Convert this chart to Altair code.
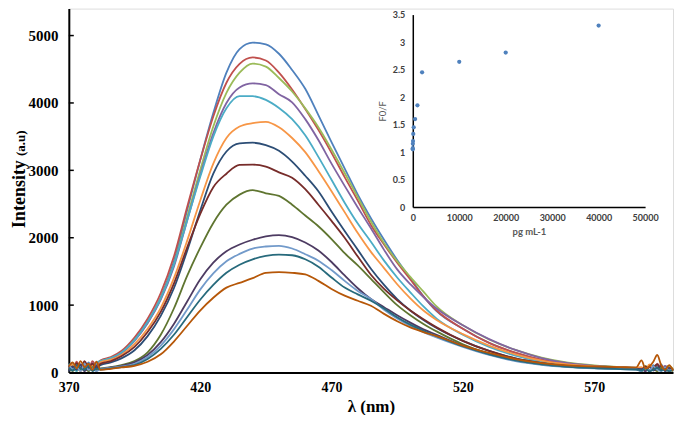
import altair as alt
import pandas as pd

# ---------------- main spectra ----------------
wavelength = [370, 371.5, 373, 374.5, 376, 377.5, 379, 380.5,
              382, 386, 390, 395, 400, 405, 410, 415, 420, 425, 430, 435, 440, 445,
              450, 455, 460, 465, 470, 475, 480, 485, 490, 495, 500, 505, 510,
              520, 530, 540, 550, 560, 570, 580, 586,
              588, 589.5, 591, 592.5, 594, 595.5, 597, 598.5, 600]

s01 = [70, 140, 30, 120, 60, 150, 40, 110,
       170, 215, 300, 500, 760, 1120, 1650, 2400, 3150, 3850, 4450, 4800, 4895, 4870,
       4730, 4490, 4210, 3820, 3420, 3030, 2640, 2290, 1970, 1670, 1400, 1130, 910,
       650, 440, 290, 185, 125, 95, 75, 65,
       40, 90, 30, 110, 50, 120, 20, 80, 40]
s02 = [120, 50, 160, 70, 150, 40, 170, 90,
       180, 230, 320, 520, 800, 1180, 1720, 2450, 3150, 3800, 4300, 4580, 4675, 4630,
       4450, 4200, 3910, 3600, 3260, 2900, 2550, 2190, 1900, 1630, 1380, 1130, 920,
       650, 440, 295, 190, 125, 95, 75, 65,
       70, 30, 100, 40, 130, 60, 90, 30, 60]
s03 = [40, 110, 20, 90, 130, 30, 100, 60,
       165, 210, 290, 480, 740, 1100, 1600, 2300, 3000, 3650, 4150, 4450, 4585, 4540,
       4370, 4170, 3920, 3640, 3310, 2960, 2600, 2240, 1920, 1650, 1420, 1200, 980,
       700, 490, 335, 220, 145, 105, 80, 70,
       50, 100, 40, 80, 110, 30, 70, 100, 50]
s04 = [90, 30, 130, 50, 100, 20, 140, 70,
       160, 205, 285, 470, 730, 1080, 1570, 2250, 2930, 3550, 4000, 4230, 4290, 4265,
       4130, 4010, 3760, 3450, 3100, 2770, 2450, 2140, 1820, 1530, 1310, 1120, 950,
       700, 495, 335, 215, 140, 100, 80, 70,
       60, 20, 90, 50, 120, 40, 100, 60, 30]
s05 = [130, 60, 20, 100, 40, 120, 80, 150,
       170, 215, 295, 480, 750, 1100, 1600, 2250, 2900, 3500, 3920, 4100, 4100, 4045,
       3925, 3760, 3520, 3200, 2860, 2520, 2210, 1940, 1660, 1410, 1190, 980, 800,
       560, 380, 250, 160, 110, 85, 65, 60,
       30, 80, 20, 60, 40, 90, 20, 50, 30]
s06 = [50, 120, 80, 20, 140, 60, 110, 30,
       150, 190, 260, 420, 650, 960, 1400, 1950, 2550, 3100, 3480, 3650, 3700, 3720,
       3640, 3480, 3270, 2990, 2690, 2380, 2070, 1790, 1550, 1310, 1100, 920, 780,
       570, 400, 270, 175, 120, 90, 75, 70,
       80, 40, 120, 60, 30, 100, 50, 20, 60]
s07 = [20, 80, 40, 110, 30, 90, 50, 70,
       110, 150, 210, 330, 540, 840, 1250, 1800, 2400, 2950, 3280, 3400, 3410, 3375,
       3290, 3130, 2920, 2690, 2390, 2100, 1820, 1540, 1300, 1090, 920, 780, 660,
       470, 320, 210, 140, 95, 75, 60, 55,
       30, 70, 20, 50, 80, 30, 60, 20, 40]
s08 = [100, 40, 140, 60, 170, 80, 130, 50,
       130, 170, 240, 380, 600, 900, 1320, 1850, 2350, 2750, 2950, 3080, 3085, 3055,
       2970, 2890, 2720, 2490, 2250, 2000, 1720, 1450, 1240, 1070, 920, 790, 670,
       470, 320, 210, 140, 95, 75, 60, 55,
       40, 90, 30, 70, 120, 40, 80, 30, 60]
s09 = [60, 20, 90, 40, 70, 20, 80, 30,
       60, 80, 110, 170, 300, 560, 950, 1430, 1850, 2220, 2490, 2640, 2705, 2660,
       2620, 2490, 2330, 2170, 1980, 1770, 1590, 1390, 1190, 1000, 850, 720, 610,
       420, 280, 180, 120, 85, 65, 55, 50,
       20, 60, 30, 50, 20, 70, 30, 40, 20]
s10 = [30, 90, 50, 120, 20, 70, 40, 100,
       55, 75, 100, 150, 260, 450, 720, 1050, 1380, 1630, 1800, 1900, 1970, 2020,
       2040, 2010, 1930, 1810, 1640, 1440, 1250, 1090, 970, 850, 740, 640, 560,
       400, 280, 190, 125, 90, 70, 55, 50,
       50, 20, 80, 30, 60, 100, 20, 70, 30]
s11 = [110, 50, 80, 20, 130, 40, 60, 20,
       50, 70, 90, 130, 230, 400, 640, 930, 1230, 1470, 1650, 1760, 1840, 1870,
       1880, 1840, 1755, 1660, 1520, 1360, 1210, 1090, 930, 800, 690, 600, 520,
       380, 260, 170, 115, 80, 60, 50, 45,
       20, 70, 30, 90, 40, 20, 80, 30, 50]
s12 = [70, 30, 110, 60, 40, 100, 20, 60,
       45, 60, 80, 110, 200, 350, 560, 820, 1080, 1300, 1480, 1600, 1680, 1730,
       1750, 1740, 1680, 1570, 1410, 1260, 1160, 1065, 950, 820, 710, 620, 540,
       390, 270, 180, 120, 85, 65, 50, 45,
       30, 60, 20, 40, 70, 30, 50, 20, 40]
s13 = [90, 150, 60, 170, 80, 130, 40, 160,
       40, 55, 75, 100, 160, 270, 460, 690, 920, 1110, 1260, 1330, 1400, 1480,
       1490, 1480, 1455, 1360, 1240, 1140, 1065, 990, 870, 760, 670, 600, 540,
       400, 290, 200, 140, 105, 90, 80, 75,
       180, 60, 90, 160, 260, 110, 40, 110, 30]

series_names = ["s01", "s02", "s03", "s04", "s05", "s06", "s07",
                "s08", "s09", "s10", "s11", "s12", "s13"]
series_values = [s01, s02, s03, s04, s05, s06, s07, s08, s09, s10, s11, s12, s13]
series_colors = ["#4F81BD", "#C0504D", "#9BBB59", "#8064A2", "#4BACC6", "#F79646",
                 "#2C4D75", "#772C2A", "#5F7530", "#4D3B62", "#729ACA", "#276A7C",
                 "#B65708"]

x_ticks = [370, 420, 470, 520, 570]
y_ticks = [0, 1000, 2000, 3000, 4000, 5000]
y_inner_ticks = [1000, 2000, 3000, 4000, 5000]

# ---------------- inset ----------------
conc = [1, 5, 10, 50, 100, 200, 500, 1000, 2000, 10000, 20000, 40000]
ratio = [1.05, 1.07, 1.15, 1.20, 1.33, 1.45, 1.60, 1.85, 2.45, 2.64, 2.81, 3.30]
inset_x_ticks = [0, 10000, 20000, 30000, 40000, 50000]
inset_y_ticks = [0, 0.5, 1, 1.5, 2, 2.5, 3, 3.5]

rows = []
for name, vals in zip(series_names, series_values):
    assert len(vals) == len(wavelength)
    for w, v in zip(wavelength, vals):
        rows.append({"wl": w, "I": v, "s": name})
spec_df = pd.DataFrame(rows)
inset_df = pd.DataFrame({"conc": conc, "ratio": ratio})

W, H = 606, 365
SERIF = "Liberation Serif"

xscale = alt.Scale(domain=[370, 600], nice=False, zero=False)
yscale = alt.Scale(domain=[0, 5400], nice=False)

lines = alt.Chart(spec_df).mark_line(strokeWidth=1.8, interpolate="monotone").encode(
    x=alt.X("wl:Q", scale=xscale,
            axis=alt.Axis(values=x_ticks, format="d", labelFlush=False, ticks=False,
                          grid=False, domainColor="black", domainWidth=2,
                          labelFont=SERIF, labelFontSize=14, labelFontWeight="bold",
                          labelColor="black", labelPadding=8,
                          title="λ (nm)", titleFont=SERIF, titleFontSize=17,
                          titleFontWeight="bold", titleColor="black", titlePadding=4)),
    y=alt.Y("I:Q", scale=yscale,
            axis=alt.Axis(values=y_ticks, format="d", ticks=False, grid=False,
                          domainColor="black", domainWidth=2,
                          labelFont=SERIF, labelFontSize=15, labelFontWeight="bold",
                          labelColor="black", labelPadding=11, title=None)),
    color=alt.Color("s:N", scale=alt.Scale(domain=series_names, range=series_colors),
                    legend=None),
    detail="s:N",
)

ticks = alt.Chart(pd.DataFrame({"v": y_inner_ticks})).mark_rule(
    color="black", strokeWidth=1.5).encode(
    x=alt.value(0), x2=alt.value(5), y=alt.Y("v:Q", scale=yscale))

title_main = alt.Chart(pd.DataFrame({"t": ["Intensity"]})).mark_text(
    angle=270, font=SERIF, fontSize=18, fontWeight="bold", color="black",
    align="center", baseline="alphabetic").encode(
    x=alt.value(-44), y=alt.value(186), text="t:N")
title_unit = alt.Chart(pd.DataFrame({"t": ["(a.u)"]})).mark_text(
    angle=270, font=SERIF, fontSize=13, fontWeight="bold", color="black",
    align="center", baseline="alphabetic").encode(
    x=alt.value(-44), y=alt.value(135), text="t:N")

main = alt.layer(lines, ticks, title_main, title_unit)

SANS = "Lato"
inset = alt.Chart(inset_df).mark_circle(size=18, color="#4F81BD", opacity=1).encode(
    x=alt.X("conc:Q",
            scale=alt.Scale(domain=[0, 50000], range=[345, 578], nice=False),
            axis=alt.Axis(orient="bottom", offset=-166, values=inset_x_ticks,
                          format="d", labelFlush=False, ticks=False, grid=False,
                          domainColor="black", domainWidth=1.5,
                          labelFont=SANS, labelFontSize=9, labelFontWeight="bold",
                          labelColor="#404040", labelPadding=7,
                          title="pg mL-1", titleFont=SANS, titleFontSize=9.5,
                          titleFontWeight="bold", titleColor="#595959",
                          titlePadding=4)),
    y=alt.Y("ratio:Q",
            scale=alt.Scale(domain=[0, 3.5], range=[199, 6], nice=False),
            axis=alt.Axis(orient="left", offset=-345, values=inset_y_ticks,
                          labelExpr="datum.value", ticks=False, grid=False,
                          domainColor="black", domainWidth=1.5,
                          labelFont=SANS, labelFontSize=9, labelFontWeight="bold",
                          labelColor="#404040", labelPadding=8,
                          title="F0/F", titleFont=SANS, titleFontSize=9.5,
                          titleFontWeight="normal", titleColor="#595959",
                          titlePadding=5)),
)

chart = alt.layer(main, inset).resolve_scale(
    x="independent", y="independent"
).properties(
    width=W, height=H, padding={"left": 3, "top": 0, "right": 0, "bottom": 0}
).configure_view(stroke=None).configure(background="white")

chart.save("out.html", embed_options={"renderer": "svg", "actions": False})
